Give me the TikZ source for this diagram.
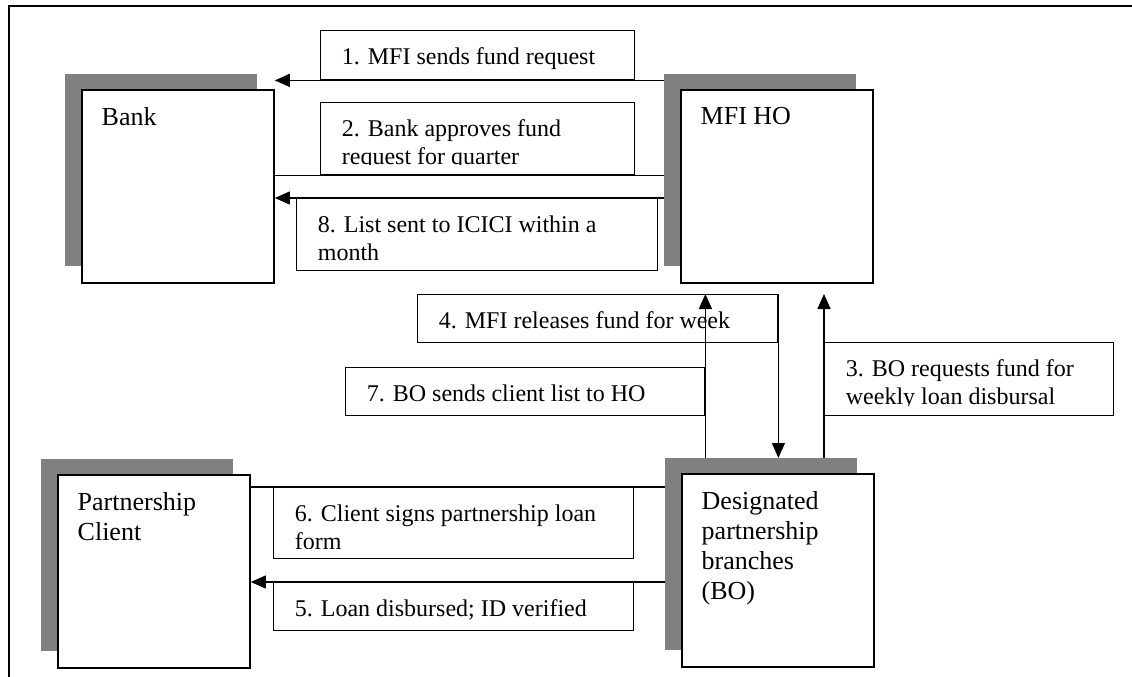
\documentclass[tikz,border=0pt]{standalone}
\usepackage{fontspec}
\setmainfont{Liberation Serif}
\usetikzlibrary{arrows.meta,calc}

\definecolor{shadowgray}{RGB}{128,128,128}

\tikzset{
  frameline/.style={line width=1.6pt},
  shadowbox/.style={fill=shadowgray, draw=none, inner sep=0pt, anchor=north west},
  entity/.style={draw, line width=1.8pt, fill=white, inner sep=0pt, anchor=north west},
  entitytext/.style={anchor=north west, inner sep=0pt, align=left,
    font=\fontsize{26pt}{30pt}\selectfont},
  msgbox/.style={draw, line width=1.4pt, fill=white, inner sep=0pt, anchor=north west},
  msgtext/.style={anchor=north west, inner sep=0pt, align=left, draw=none, fill=none,
    minimum width=0pt, minimum height=0pt,
    font=\fontsize{24pt}{27.5pt}\selectfont},
  flow/.style={line width=1.4pt},
  arr/.style={flow, -{Triangle[length=15pt,width=13pt]}},
}

% entity box with its offset shadow: name, x, y, text
\newcommand\entitybox[4]{%
  \node[shadowbox, minimum width=192pt, minimum height=192pt] (#1s) at (#2-16,#3-15) {};
  \node[entity, minimum width=192pt, minimum height=193pt] (#1) at (#2,#3) {};
  \node[entitytext] at ([shift={(20.5pt,-18pt)}]#1.north west) {#4};
}

% message box; its text is clipped to the inner text area: name, x, y, width, height, text
\newcommand\msgnote[6]{%
  \node[msgbox, minimum width=#4pt, minimum height=#5pt,
    path picture={%
      \clip (path picture bounding box.north west) rectangle ([yshift=10pt]path picture bounding box.south east);
      \node[msgtext] at ([shift={(20.5pt,-16.5pt)}]path picture bounding box.north west) {#6};}]
    (#1) at (#2,#3) {};
}

\begin{document}
\begin{tikzpicture}[x=1pt, y=-1pt]
  \useasboundingbox (0,0) rectangle (1132,677);

  % outer frame
  \coordinate (fbl) at (9,677);
  \coordinate (ftl) at (9,6);
  \coordinate (ftr) at (1132,6);
  \draw[frameline] (fbl) -- (ftl) -- (ftr);

  % parties
  \entitybox{bank}{81}{89}{Bank}
  \entitybox{mfi}{680}{89}{MFI HO}
  \entitybox{client}{57}{474}{Partnership\\Client}
  \entitybox{bo}{681}{473}{Designated\\partnership\\branches\\(BO)}

  % message boxes
  \msgnote{msg1}{320}{30}{314}{49}{1. MFI sends fund request}
  \msgnote{msg2}{320}{102}{314}{72}{2. Bank approves fund\\request for quarter}
  \msgnote{msg8}{296}{198}{361}{72}{8. List sent to ICICI within a\\month}
  \msgnote{msg4}{417}{294}{360}{48}{4. MFI releases fund for week}
  \msgnote{msg7}{345}{367}{359}{48}{7. BO sends client list to HO}
  \msgnote{msg3}{824}{342}{289}{73}{3. BO requests fund for\\weekly loan disbursal}
  \msgnote{msg6}{273}{487}{360}{71}{6. Client signs partnership loan\\form}
  \msgnote{msg5}{273}{582}{360}{48}{5. Loan disbursed; ID verified}

  % flows between Bank and MFI HO
  \draw[arr]  (mfis.west |- msg1.south) -- (bank.east |- msg1.south);
  \draw[flow] (mfis.west |- msg2.south) -- (bank.east |- msg2.south);
  \draw[arr]  (mfis.west |- msg8.north) -- (bank.east |- msg8.north);

  % flows between MFI HO and branches
  \draw[arr] (msg7.east |- bos.north) -- (msg7.east |- msg4.north);
  \draw[arr] (msg4.north east) -- (msg4.east |- bos.north);
  \draw[arr] (msg3.west |- bos.north) -- (msg3.west |- msg4.north);

  % flows between branches and client
  \draw[flow] (bos.west |- msg6.north) -- (client.east |- msg6.north);
  \draw[arr]  (bos.west |- msg5.north) -- (client.east |- msg5.north);
\end{tikzpicture}
\end{document}
